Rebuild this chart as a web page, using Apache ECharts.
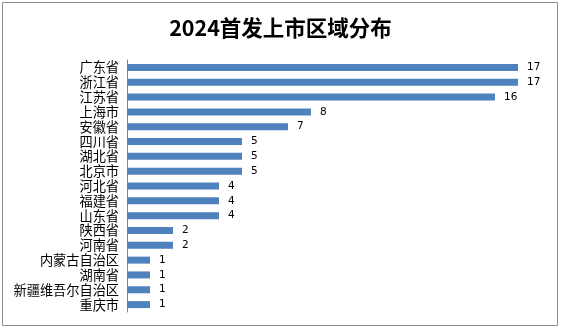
<!DOCTYPE html>
<html><head><meta charset="utf-8">
<script src="https://cdn.jsdelivr.net/npm/echarts@6/dist/echarts.min.js"></script>
<style>html,body{margin:0;padding:0;background:#fff}#c{width:561px;height:330px}</style>
</head><body><div id="c"></div>
<script>
const categories = ['广东省','浙江省','江苏省','上海市','安徽省','四川省','湖北省','北京市','河北省','福建省','山东省','陕西省','河南省','内蒙古自治区','湖南省','新疆维吾尔自治区','重庆市'];
const values = [17,17,16,8,7,5,5,5,4,4,4,2,2,1,1,1,1];
const chart = echarts.init(document.getElementById('c'));
chart.setOption({
  animation:false,
  backgroundColor:'#fff',
  title:{text:'2024首发上市区域分布',left:'center',top:12,textStyle:{fontFamily:'Noto Sans CJK SC',fontWeight:'bold',fontSize:21.5,color:'#000'}},
  graphic:[{type:'rect',shape:{x:2.5,y:2.5,width:555,height:323},style:{fill:'none',stroke:'#8c8c8c',lineWidth:1}}],
  grid:{left:127,right:20,top:60,bottom:18,containLabel:false},
  xAxis:{type:'value',min:0,max:18,show:false},
  yAxis:{type:'category',data:categories,inverse:true,
    axisLine:{show:true,lineStyle:{color:'#868686'}},axisTick:{show:false},
    axisLabel:{interval:0,fontFamily:'Noto Sans CJK SC',fontSize:13.2,lineHeight:14,color:'#000',margin:8}},
  series:[{type:'bar',data:values,barWidth:7,itemStyle:{color:'#4f81bd'},
    label:{show:true,position:'right',distance:9,fontFamily:'DejaVu Sans',fontSize:10.5,color:'#000'}}]
});
</script></body></html>
